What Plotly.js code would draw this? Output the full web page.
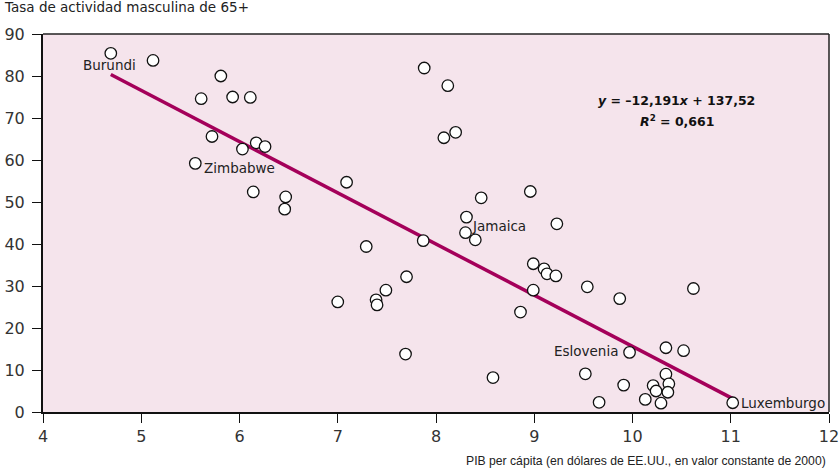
<!DOCTYPE html>
<html>
<head>
<meta charset="utf-8">
<script src="https://cdn.plot.ly/plotly-3.0.1.min.js"></script>
<style>html,body{margin:0;padding:0;background:#fff;}#chart{width:839px;height:471px;}</style>
</head>
<body>
<div id="chart"></div>
<script>
// log GDP per capita (x) and male 65+ activity rate (y)
const pibLog = [4.69, 5.12, 5.81, 5.61, 5.93, 6.11, 5.72, 6.03, 6.17, 6.26, 5.55, 6.14, 6.47, 6.46, 7.09,
  7.88, 8.12, 8.08, 8.20, 8.46, 8.96, 8.31, 9.23, 8.30, 8.40,
  7.29, 7.70, 7.49, 7.39, 7.40, 7.00, 7.69, 7.87,
  8.99, 9.10, 9.13, 9.22, 8.99, 9.54, 9.87, 10.62, 8.86, 9.97, 10.34, 10.52,
  8.58, 9.52, 10.34, 9.91, 10.21, 10.37, 10.24, 10.36, 10.13, 9.66, 10.29, 11.02];
const tasaActividad = [85.4, 83.7, 80.0, 74.6, 75.0, 74.9, 65.6, 62.6, 64.1, 63.2, 59.2, 52.4, 51.2, 48.3, 54.7,
  81.9, 77.7, 65.3, 66.6, 51.0, 52.5, 46.4, 44.8, 42.7, 41.0,
  39.4, 32.2, 29.0, 26.7, 25.5, 26.2, 13.8, 40.8,
  35.3, 34.1, 32.9, 32.4, 29.0, 29.8, 27.0, 29.4, 23.8, 14.2, 15.3, 14.6,
  8.2, 9.1, 9.0, 6.4, 6.3, 6.7, 5.0, 4.7, 3.0, 2.3, 2.1, 2.2];
const paises = ["Burundi", "", "", "", "", "", "", "", "", "", "Zimbabwe", "", "", "", "",
  "", "", "", "", "", "", "Jamaica", "", "", "",
  "", "", "", "", "", "", "", "",
  "", "", "", "", "", "", "", "", "", "Eslovenia", "", "",
  "", "", "", "", "", "", "", "", "", "", "", "Luxemburgo"];
const pendiente = -12.191;
const intercepto = 137.52;
const r2 = 0.661;
const xTicks = [4, 5, 6, 7, 8, 9, 10, 11, 12];
const yTicks = [0, 10, 20, 30, 40, 50, 60, 70, 80, 90];

const xMin = Math.min(...pibLog), xMax = Math.max(...pibLog);
const lineX = [xMin, xMax];
const lineY = lineX.map(v => pendiente * v + intercepto);

const fmt = (v, d) => v.toFixed(d).replace('.', ',');
const FONT = 'DejaVu Sans, Liberation Sans, Arial, sans-serif';

const labelStyle = {
  "Burundi": {xanchor: 'center', yanchor: 'middle', xshift: -1, yshift: -12},
  "Zimbabwe": {xanchor: 'left', yanchor: 'middle', xshift: 7, yshift: -5},
  "Jamaica": {xanchor: 'left', yanchor: 'middle', xshift: 4, yshift: -9},
  "Eslovenia": {xanchor: 'right', yanchor: 'middle', xshift: -10, yshift: 1},
  "Luxemburgo": {xanchor: 'left', yanchor: 'middle', xshift: 6, yshift: 0}
};
const annotations = [];
paises.forEach((p, i) => {
  if (!p) return;
  const s = labelStyle[p];
  annotations.push({x: pibLog[i], y: tasaActividad[i], xref: 'x', yref: 'y', text: p, showarrow: false,
    xanchor: s.xanchor, yanchor: s.yanchor, xshift: s.xshift, yshift: s.yshift,
    font: {family: FONT, size: 13.5, color: '#222'}});
});
annotations.push({
  x: 10.45, y: 74.2, xref: 'x', yref: 'y', showarrow: false, xanchor: 'center', yanchor: 'middle',
  text: '<b><i>y</i> = –' + fmt(-pendiente, 3) + '<i>x</i> + ' + fmt(intercepto, 2) + '</b>',
  font: {family: FONT, size: 12.5, color: '#111'}
});
annotations.push({
  x: 10.45, y: 69.2, xref: 'x', yref: 'y', showarrow: false, xanchor: 'center', yanchor: 'middle',
  text: '<b><i>R</i><sup>2</sup> = ' + fmt(r2, 3) + '</b>',
  font: {family: FONT, size: 12.5, color: '#111'}
});
annotations.push({
  x: 0, y: 1, xref: 'paper', yref: 'paper', xanchor: 'left', yanchor: 'bottom', xshift: -41, yshift: 17,
  showarrow: false, text: 'Tasa de actividad masculina de 65+',
  font: {family: FONT, size: 13.5, color: '#222'}
});
annotations.push({
  x: 1, y: 0, xref: 'paper', yref: 'paper', xanchor: 'right', yanchor: 'top', xshift: -1, yshift: -40,
  showarrow: false, text: 'PIB per cápita (en dólares de EE.UU., en valor constante de 2000)',
  font: {family: 'Liberation Sans, Arial, sans-serif', size: 12.2, color: '#222'}
});

const traces = [
  {x: lineX, y: lineY, mode: 'lines', type: 'scatter', line: {color: '#a4005a', width: 3.5}, hoverinfo: 'skip'},
  {x: pibLog, y: tasaActividad, mode: 'markers', type: 'scatter',
   marker: {size: 11.5, color: '#ffffff', line: {color: '#111', width: 1.3}}}
];

const layout = {
  width: 839, height: 471,
  margin: {l: 43, r: 10, t: 34, b: 59},
  paper_bgcolor: '#ffffff', plot_bgcolor: '#f5e4ec',
  showlegend: false,
  font: {family: FONT, color: '#333'},
  xaxis: {range: [4, 12], tickvals: xTicks, ticktext: xTicks.map(String), showgrid: false, zeroline: false,
    showline: true, linecolor: '#111', linewidth: 2, ticks: 'outside', ticklen: 9, tickwidth: 1, tickcolor: '#111',
    ticklabeloverflow: 'allow',
    tickfont: {family: FONT, size: 16, color: '#333'}},
  yaxis: {range: [0, 90], tickvals: yTicks, ticktext: yTicks.map(String), showgrid: false, zeroline: false,
    showline: true, linecolor: '#111', linewidth: 2, ticks: 'outside', ticklen: 9, tickwidth: 1, tickcolor: '#111',
    ticklabelstandoff: 4, ticklabeloverflow: 'allow',
    tickfont: {family: FONT, size: 16, color: '#333'}},
  shapes: [
    {type: 'line', xref: 'paper', yref: 'paper', x0: 0, x1: 1, y0: 1, y1: 1, line: {color: '#222', width: 1.5}},
    {type: 'line', xref: 'paper', yref: 'paper', x0: 1, x1: 1, y0: 0, y1: 1, line: {color: '#222', width: 1.5}}
  ],
  annotations: annotations
};

Plotly.newPlot('chart', traces, layout, {displayModeBar: false, staticPlot: true});
</script>
</body>
</html>
